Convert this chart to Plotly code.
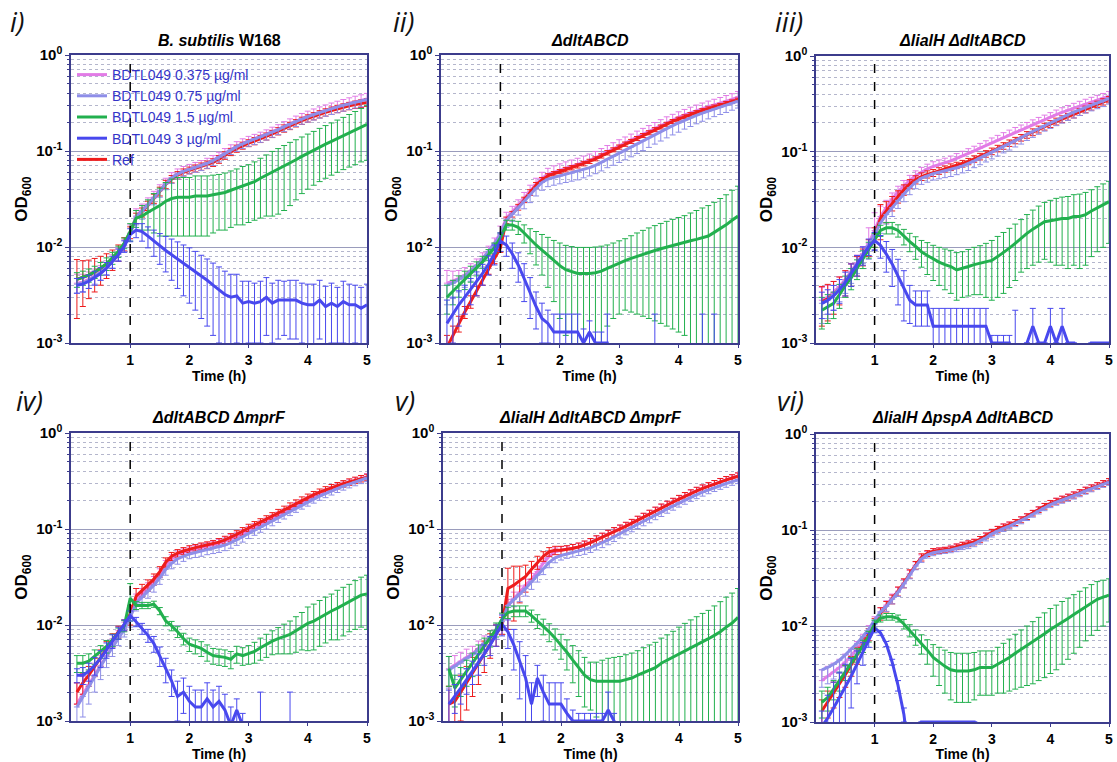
import plotly.graph_objects as go

# ---------------- data ----------------
TIME = [0.1, 0.2, 0.3, 0.4, 0.5, 0.6, 0.7, 0.8, 0.9, 1.0,
        1.1, 1.2, 1.3, 1.4, 1.5, 1.6, 1.7, 1.8, 1.9, 2.0,
        2.1, 2.2, 2.3, 2.4, 2.5, 2.6, 2.7, 2.8, 2.9, 3.0,
        3.1, 3.2, 3.3, 3.4, 3.5, 3.6, 3.7, 3.8, 3.9, 4.0,
        4.1, 4.2, 4.3, 4.4, 4.5, 4.6, 4.7, 4.8, 4.9, 5.0]

SERIES = ["BDTL049 0.375 µg/ml", "BDTL049 0.75 µg/ml", "BDTL049 1.5 µg/ml",
          "BDTL049 3 µg/ml", "Ref"]

PANEL_LABELS = ["i)", "ii)", "iii)", "iv)", "v)", "vi)"]
PANEL_TITLES = ["<i>B. subtilis</i> W168", "<i>ΔdltABCD</i>", "<i>ΔlialH ΔdltABCD</i>",
                "<i>ΔdltABCD ΔmprF</i>", "<i>ΔlialH ΔdltABCD ΔmprF</i>",
                "<i>ΔlialH ΔpspA ΔdltABCD</i>"]

Y_TICKS = [0.001, 0.01, 0.1, 1]
Y_TICKTEXT = ["10<sup>-3</sup>", "10<sup>-2</sup>", "10<sup>-1</sup>", "10<sup>0</sup>"]
X_TICKS = [1, 2, 3, 4, 5]

# --- panel i: B. subtilis W168 ---
W168_375 = [0.0042,0.0043,0.0046,0.0050,0.0055,0.0062,0.0072,0.0085,0.0105,0.0140,
            0.0210,0.0240,0.0280,0.0330,0.0390,0.0460,0.0530,0.0580,0.0620,0.0650,
            0.0680,0.0710,0.0750,0.0800,0.0870,0.0950,0.1040,0.1120,0.1200,0.1270,
            0.1330,0.1400,0.1480,0.1580,0.1680,0.1800,0.1920,0.2050,0.2180,0.2300,
            0.2420,0.2540,0.2660,0.2780,0.2900,0.3020,0.3140,0.3260,0.3370,0.3480]
W168_375_ERR = [0.0010,0.0009,0.0009,0.0009,0.0009,0.0010,0.0011,0.0012,0.0014,0.0030,
                0.0040,0.0040,0.0045,0.0050,0.0055,0.0060,0.0065,0.0070,0.0070,0.0075,
                0.0080,0.0085,0.0090,0.0095,0.0100,0.0110,0.0120,0.0130,0.0140,0.0150,
                0.0160,0.0170,0.0180,0.0190,0.0200,0.0220,0.0240,0.0260,0.0280,0.0300,
                0.0320,0.0340,0.0360,0.0380,0.0400,0.0420,0.0440,0.0460,0.0480,0.0500]
W168_075 = [0.0041,0.0042,0.0045,0.0049,0.0054,0.0061,0.0071,0.0084,0.0103,0.0138,
            0.0205,0.0235,0.0275,0.0325,0.0385,0.0455,0.0525,0.0575,0.0615,0.0645,
            0.0675,0.0705,0.0745,0.0795,0.0865,0.0945,0.1030,0.1110,0.1190,0.1260,
            0.1320,0.1390,0.1470,0.1570,0.1670,0.1790,0.1910,0.2040,0.2160,0.2280,
            0.2400,0.2520,0.2640,0.2760,0.2880,0.3000,0.3120,0.3240,0.3350,0.3450]
W168_075_ERR = [0.0008,0.0008,0.0008,0.0008,0.0009,0.0010,0.0011,0.0012,0.0014,0.0025,
                0.0035,0.0040,0.0045,0.0050,0.0055,0.0060,0.0065,0.0065,0.0070,0.0070,
                0.0075,0.0080,0.0085,0.0090,0.0095,0.0100,0.0110,0.0120,0.0130,0.0140,
                0.0150,0.0160,0.0170,0.0180,0.0190,0.0200,0.0220,0.0240,0.0260,0.0280,
                0.0300,0.0320,0.0340,0.0360,0.0380,0.0400,0.0420,0.0440,0.0460,0.0480]
W168_15 = [0.0046,0.0048,0.0051,0.0055,0.0060,0.0067,0.0077,0.0090,0.0110,0.0145,
           0.0200,0.0210,0.0230,0.0250,0.0270,0.0300,0.0320,0.0330,0.0330,0.0330,
           0.0340,0.0340,0.0340,0.0350,0.0360,0.0370,0.0390,0.0410,0.0430,0.0450,
           0.0480,0.0520,0.0560,0.0600,0.0640,0.0690,0.0750,0.0810,0.0880,0.0950,
           0.1020,0.1100,0.1180,0.1260,0.1350,0.1440,0.1540,0.1650,0.1770,0.1900]
W168_15_ERR = [0.0008,0.0008,0.0008,0.0008,0.0009,0.0010,0.0011,0.0012,0.0014,0.0030,
               0.0040,0.0060,0.0080,0.0110,0.0140,0.0170,0.0190,0.0200,0.0200,0.0200,
               0.0210,0.0210,0.0210,0.0210,0.0210,0.0220,0.0230,0.0240,0.0260,0.0270,
               0.0290,0.0320,0.0350,0.0390,0.0420,0.0450,0.0480,0.0500,0.0520,0.0550,
               0.0580,0.0620,0.0660,0.0700,0.0750,0.0800,0.0860,0.0930,0.1000,0.1100]
W168_3 = [0.0040,0.0041,0.0044,0.0048,0.0053,0.0060,0.0070,0.0083,0.0102,0.0135,
          0.0150,0.0145,0.0130,0.0115,0.0102,0.0092,0.0083,0.0075,0.0068,0.0062,
          0.0056,0.0050,0.0045,0.0040,0.0036,0.0032,0.0030,0.0031,0.0026,0.0027,
          0.0026,0.0027,0.0030,0.0026,0.0028,0.0028,0.0028,0.0028,0.0026,0.0025,
          0.0025,0.0028,0.0024,0.0026,0.0024,0.0027,0.0025,0.0025,0.0023,0.0025]
W168_3_ERR = [0.0007,0.0007,0.0007,0.0008,0.0008,0.0009,0.0010,0.0012,0.0014,0.0020,
              0.0025,0.0030,0.0032,0.0035,0.0036,0.0037,0.0038,0.0038,0.0037,0.0036,
              0.0034,0.0032,0.0030,0.0028,0.0026,0.0024,0.0022,0.0021,0.0018,0.0017,
              0.0016,0.0017,0.0018,0.0016,0.0017,0.0016,0.0017,0.0017,0.0016,0.0016,
              0.0016,0.0017,0.0015,0.0016,0.0014,0.0017,0.0016,0.0015,0.0015,0.0016]
W168_REF = [0.0046,0.0048,0.0051,0.0055,0.0060,0.0066,0.0075,0.0088,0.0108,0.0142,
            0.0200,0.0230,0.0270,0.0320,0.0380,0.0450,0.0510,0.0560,0.0600,0.0630,
            0.0660,0.0690,0.0720,0.0760,0.0820,0.0900,0.0980,0.1060,0.1140,0.1210,
            0.1270,0.1340,0.1420,0.1510,0.1610,0.1720,0.1830,0.1950,0.2070,0.2190,
            0.2310,0.2420,0.2530,0.2640,0.2750,0.2850,0.2950,0.3040,0.3120,0.3200]
W168_REF_ERR = [0.0028,0.0024,0.0022,0.0021,0.0020,0.0019,0.0018,0.0017,0.0017,0.0020,
                0.0025,0.0025,0.0030,0.0035,0.0040,0.0045,0.0045,0.0050,0.0050,0.0050,
                0.0055,0.0060,0.0065,0.0070,0.0075,0.0080,0.0085,0.0090,0.0095,0.0100,
                0.0110,0.0115,0.0120,0.0130,0.0140,0.0150,0.0160,0.0170,0.0180,0.0190,
                0.0200,0.0210,0.0220,0.0230,0.0240,0.0250,0.0260,0.0270,0.0280,0.0290]

# --- panel ii: dltABCD ---
DLT_375 = [0.0042,0.0044,0.0047,0.0051,0.0057,0.0065,0.0076,0.0090,0.0110,0.0140,
           0.0200,0.0230,0.0270,0.0320,0.0380,0.0450,0.0520,0.0570,0.0600,0.0630,
           0.0660,0.0690,0.0720,0.0760,0.0800,0.0850,0.0910,0.0980,0.1050,0.1130,
           0.1210,0.1300,0.1400,0.1500,0.1610,0.1730,0.1850,0.1980,0.2110,0.2240,
           0.2370,0.2500,0.2630,0.2760,0.2890,0.3020,0.3150,0.3300,0.3450,0.3650]
DLT_375_ERR = [0.0015,0.0012,0.0010,0.0010,0.0010,0.0010,0.0011,0.0012,0.0014,0.0025,
               0.0030,0.0035,0.0040,0.0050,0.0060,0.0070,0.0080,0.0090,0.0100,0.0105,
               0.0110,0.0115,0.0120,0.0125,0.0130,0.0140,0.0150,0.0160,0.0170,0.0180,
               0.0190,0.0200,0.0210,0.0220,0.0230,0.0250,0.0270,0.0290,0.0300,0.0320,
               0.0340,0.0360,0.0380,0.0400,0.0420,0.0440,0.0460,0.0480,0.0500,0.0520]
DLT_075 = [0.0040,0.0042,0.0046,0.0050,0.0056,0.0064,0.0075,0.0089,0.0108,0.0135,
           0.0190,0.0220,0.0255,0.0300,0.0350,0.0410,0.0470,0.0510,0.0530,0.0550,
           0.0570,0.0590,0.0610,0.0640,0.0670,0.0710,0.0760,0.0820,0.0880,0.0950,
           0.1020,0.1100,0.1190,0.1280,0.1380,0.1490,0.1600,0.1720,0.1840,0.1960,
           0.2090,0.2220,0.2350,0.2480,0.2610,0.2740,0.2870,0.3000,0.3150,0.3300]
DLT_075_ERR = [0.0015,0.0013,0.0012,0.0012,0.0012,0.0012,0.0013,0.0014,0.0016,0.0025,
               0.0030,0.0035,0.0040,0.0050,0.0060,0.0070,0.0080,0.0085,0.0090,0.0095,
               0.0100,0.0105,0.0110,0.0115,0.0120,0.0130,0.0140,0.0150,0.0170,0.0190,
               0.0210,0.0230,0.0250,0.0270,0.0290,0.0310,0.0330,0.0350,0.0370,0.0390,
               0.0400,0.0420,0.0430,0.0440,0.0450,0.0460,0.0470,0.0480,0.0490,0.0500]
DLT_15 = [0.0030,0.0035,0.0040,0.0046,0.0053,0.0060,0.0070,0.0083,0.0098,0.0125,
          0.0170,0.0170,0.0160,0.0140,0.0120,0.0105,0.0093,0.0082,0.0072,0.0064,
          0.0058,0.0055,0.0053,0.0053,0.0053,0.0054,0.0056,0.0060,0.0064,0.0068,
          0.0072,0.0076,0.0080,0.0084,0.0088,0.0092,0.0096,0.0100,0.0104,0.0108,
          0.0112,0.0116,0.0120,0.0125,0.0130,0.0142,0.0155,0.0170,0.0190,0.0210]
DLT_15_ERR = [0.0010,0.0010,0.0010,0.0010,0.0010,0.0010,0.0010,0.0011,0.0012,0.0015,
              0.0020,0.0020,0.0025,0.0030,0.0035,0.0040,0.0042,0.0044,0.0045,0.0046,
              0.0046,0.0046,0.0046,0.0046,0.0046,0.0046,0.0046,0.0045,0.0046,0.0048,
              0.0050,0.0055,0.0060,0.0065,0.0070,0.0075,0.0080,0.0085,0.0090,0.0095,
              0.0100,0.0110,0.0120,0.0130,0.0140,0.0150,0.0165,0.0180,0.0200,0.0220]
DLT_3 = [0.0016,0.0020,0.0025,0.0030,0.0036,0.0043,0.0053,0.0066,0.0085,0.0115,
         0.0105,0.0085,0.0065,0.0047,0.0033,0.0024,0.0018,0.0016,0.0013,0.0013,
         0.0013,0.0013,0.0013,0.0010,0.0013,0.0010,0.0010,0.0010,0.0004,0.0004,
         0.0004,0.0004,0.0004,0.0004,0.0004,0.0004,0.0004,0.0004,0.0004,0.0004,
         0.0004,0.0004,0.0004,0.0004,0.0004,0.0004,0.0004,0.0004,0.0004,0.0004]
DLT_3_ERR = [0.0012,0.0010,0.0010,0.0010,0.0011,0.0012,0.0013,0.0015,0.0020,0.0025,
             0.0025,0.0025,0.0022,0.0020,0.0015,0.0010,0.0008,0.0006,0.0007,0.0007,
             0.0007,0.0007,0.0007,0.0004,0.0004,0.0003,0.0003,0.0010,0.0000,0.0000,
             0.0000,0.0000,0.0000,0.0000,0.0000,0.0016,0.0000,0.0000,0.0000,0.0000,
             0.0000,0.0000,0.0000,0.0016,0.0000,0.0016,0.0000,0.0000,0.0000,0.0000]
DLT_REF = [0.0009,0.0012,0.0016,0.0021,0.0027,0.0035,0.0045,0.0058,0.0075,0.0098,
           0.0190,0.0220,0.0260,0.0310,0.0370,0.0440,0.0500,0.0550,0.0580,0.0610,
           0.0640,0.0670,0.0700,0.0740,0.0780,0.0830,0.0890,0.0960,0.1030,0.1100,
           0.1180,0.1260,0.1350,0.1450,0.1550,0.1670,0.1780,0.1900,0.2030,0.2150,
           0.2280,0.2400,0.2520,0.2640,0.2760,0.2880,0.3000,0.3130,0.3260,0.3400]
DLT_REF_ERR = [0.0003,0.0003,0.0003,0.0003,0.0004,0.0004,0.0005,0.0006,0.0008,0.0010,
               0.0015,0.0015,0.0018,0.0020,0.0025,0.0030,0.0030,0.0030,0.0030,0.0030,
               0.0035,0.0035,0.0035,0.0040,0.0040,0.0040,0.0045,0.0050,0.0050,0.0055,
               0.0060,0.0060,0.0065,0.0070,0.0075,0.0080,0.0085,0.0090,0.0095,0.0100,
               0.0100,0.0110,0.0110,0.0120,0.0120,0.0130,0.0130,0.0140,0.0140,0.0150]

# --- panel iii: lialH dltABCD ---
LD_375 = [0.0028,0.0030,0.0034,0.0039,0.0046,0.0056,0.0069,0.0086,0.0110,0.0150,
          0.0210,0.0260,0.0320,0.0380,0.0440,0.0500,0.0560,0.0610,0.0660,0.0700,
          0.0730,0.0760,0.0800,0.0850,0.0900,0.0960,0.1020,0.1090,0.1160,0.1240,
          0.1320,0.1410,0.1500,0.1600,0.1700,0.1810,0.1930,0.2050,0.2170,0.2300,
          0.2440,0.2580,0.2720,0.2860,0.3000,0.3150,0.3300,0.3460,0.3620,0.3800]
LD_375_ERR = [0.0010,0.0010,0.0010,0.0010,0.0011,0.0012,0.0014,0.0016,0.0050,0.0080,
              0.0060,0.0050,0.0050,0.0055,0.0060,0.0065,0.0070,0.0075,0.0080,0.0085,
              0.0090,0.0095,0.0100,0.0105,0.0110,0.0115,0.0120,0.0130,0.0140,0.0150,
              0.0160,0.0170,0.0180,0.0190,0.0200,0.0210,0.0220,0.0230,0.0240,0.0260,
              0.0280,0.0300,0.0320,0.0340,0.0360,0.0380,0.0400,0.0420,0.0440,0.0460]
LD_075 = [0.0026,0.0028,0.0032,0.0037,0.0044,0.0054,0.0067,0.0084,0.0105,0.0135,
          0.0180,0.0220,0.0260,0.0310,0.0360,0.0420,0.0480,0.0530,0.0560,0.0590,
          0.0610,0.0630,0.0650,0.0680,0.0710,0.0750,0.0800,0.0860,0.0920,0.0990,
          0.1060,0.1140,0.1220,0.1310,0.1400,0.1520,0.1630,0.1750,0.1880,0.2010,
          0.2150,0.2290,0.2440,0.2590,0.2750,0.2910,0.3070,0.3230,0.3400,0.3600]
LD_075_ERR = [0.0010,0.0010,0.0010,0.0010,0.0011,0.0012,0.0014,0.0016,0.0030,0.0040,
              0.0040,0.0045,0.0050,0.0055,0.0060,0.0065,0.0070,0.0075,0.0080,0.0085,
              0.0090,0.0095,0.0100,0.0105,0.0110,0.0115,0.0120,0.0130,0.0140,0.0150,
              0.0160,0.0170,0.0180,0.0190,0.0200,0.0210,0.0220,0.0230,0.0240,0.0260,
              0.0280,0.0300,0.0320,0.0340,0.0360,0.0380,0.0400,0.0420,0.0440,0.0460]
LD_15 = [0.0022,0.0024,0.0026,0.0032,0.0040,0.0048,0.0060,0.0076,0.0095,0.0120,
         0.0150,0.0160,0.0160,0.0150,0.0130,0.0115,0.0102,0.0090,0.0082,0.0075,
         0.0070,0.0066,0.0063,0.0058,0.0060,0.0063,0.0066,0.0068,0.0070,0.0073,
         0.0080,0.0088,0.0098,0.0110,0.0125,0.0140,0.0155,0.0170,0.0185,0.0190,
         0.0195,0.0200,0.0200,0.0210,0.0210,0.0220,0.0240,0.0260,0.0280,0.0300]
LD_15_ERR = [0.0008,0.0008,0.0008,0.0009,0.0010,0.0012,0.0014,0.0016,0.0018,0.0020,
             0.0020,0.0022,0.0022,0.0022,0.0024,0.0025,0.0027,0.0028,0.0030,0.0030,
             0.0030,0.0030,0.0030,0.0030,0.0030,0.0032,0.0034,0.0036,0.0040,0.0045,
             0.0050,0.0055,0.0060,0.0065,0.0070,0.0080,0.0090,0.0100,0.0110,0.0120,
             0.0130,0.0135,0.0140,0.0145,0.0150,0.0155,0.0160,0.0170,0.0180,0.0190]
LD_3 = [0.0026,0.0028,0.0031,0.0036,0.0043,0.0053,0.0066,0.0083,0.0102,0.0118,
        0.0105,0.0085,0.0067,0.0050,0.0037,0.0028,0.0025,0.0025,0.0025,0.0015,
        0.0015,0.0015,0.0015,0.0015,0.0015,0.0015,0.0015,0.0015,0.0015,0.0010,
        0.0010,0.0010,0.0010,0.0004,0.0004,0.0010,0.0015,0.0010,0.0010,0.0015,
        0.0010,0.0015,0.0010,0.0010,0.0004,0.0004,0.0010,0.0010,0.0010,0.0010]
LD_3_ERR = [0.0008,0.0008,0.0009,0.0010,0.0012,0.0014,0.0016,0.0018,0.0020,0.0025,
            0.0028,0.0030,0.0028,0.0025,0.0020,0.0012,0.0010,0.0010,0.0010,0.0008,
            0.0008,0.0008,0.0008,0.0008,0.0008,0.0008,0.0008,0.0008,0.0008,0.0002,
            0.0002,0.0002,0.0002,0.0018,0.0000,0.0000,0.0008,0.0000,0.0000,0.0008,
            0.0000,0.0008,0.0000,0.0000,0.0000,0.0000,0.0000,0.0000,0.0000,0.0000]
LD_REF = [0.0027,0.0029,0.0032,0.0037,0.0044,0.0053,0.0065,0.0080,0.0100,0.0130,
          0.0200,0.0240,0.0290,0.0340,0.0400,0.0460,0.0510,0.0550,0.0580,0.0600,
          0.0630,0.0660,0.0690,0.0720,0.0750,0.0790,0.0840,0.0890,0.0950,0.1010,
          0.1080,0.1150,0.1230,0.1310,0.1400,0.1500,0.1600,0.1710,0.1830,0.1950,
          0.2070,0.2190,0.2320,0.2450,0.2600,0.2770,0.2950,0.3130,0.3320,0.3500]
LD_REF_ERR = [0.0012,0.0012,0.0012,0.0012,0.0013,0.0014,0.0015,0.0016,0.0020,0.0030,
              0.0080,0.0060,0.0050,0.0050,0.0050,0.0050,0.0050,0.0050,0.0050,0.0050,
              0.0050,0.0050,0.0055,0.0055,0.0060,0.0060,0.0065,0.0070,0.0075,0.0080,
              0.0085,0.0090,0.0095,0.0100,0.0110,0.0120,0.0130,0.0140,0.0150,0.0160,
              0.0170,0.0180,0.0190,0.0200,0.0210,0.0220,0.0230,0.0240,0.0250,0.0260]

# --- panel iv: dltABCD mprF ---
DM_375 = [0.0015,0.0019,0.0024,0.0030,0.0038,0.0048,0.0060,0.0075,0.0092,0.0125,
          0.0180,0.0210,0.0240,0.0280,0.0340,0.0420,0.0490,0.0540,0.0570,0.0600,
          0.0620,0.0640,0.0660,0.0680,0.0710,0.0750,0.0790,0.0840,0.0900,0.0970,
          0.1040,0.1110,0.1190,0.1280,0.1380,0.1490,0.1610,0.1730,0.1860,0.1990,
          0.2130,0.2270,0.2410,0.2560,0.2710,0.2860,0.3010,0.3170,0.3330,0.3500]
DM_375_ERR = [0.0010,0.0010,0.0010,0.0010,0.0010,0.0011,0.0012,0.0013,0.0015,0.0030,
              0.0030,0.0030,0.0035,0.0040,0.0045,0.0050,0.0050,0.0050,0.0050,0.0050,
              0.0055,0.0060,0.0060,0.0065,0.0070,0.0075,0.0080,0.0085,0.0090,0.0095,
              0.0100,0.0105,0.0110,0.0115,0.0120,0.0130,0.0140,0.0150,0.0160,0.0170,
              0.0180,0.0190,0.0200,0.0210,0.0220,0.0230,0.0240,0.0250,0.0260,0.0270]
DM_075 = [0.0014,0.0018,0.0023,0.0029,0.0037,0.0047,0.0059,0.0074,0.0090,0.0120,
          0.0170,0.0195,0.0225,0.0260,0.0310,0.0380,0.0440,0.0490,0.0520,0.0550,
          0.0570,0.0590,0.0610,0.0630,0.0650,0.0680,0.0720,0.0770,0.0830,0.0900,
          0.0970,0.1040,0.1120,0.1210,0.1310,0.1420,0.1540,0.1660,0.1790,0.1920,
          0.2060,0.2200,0.2340,0.2490,0.2640,0.2790,0.2940,0.3090,0.3250,0.3400]
DM_075_ERR = [0.0006,0.0007,0.0008,0.0009,0.0010,0.0011,0.0012,0.0013,0.0015,0.0025,
              0.0030,0.0030,0.0035,0.0040,0.0045,0.0050,0.0055,0.0060,0.0060,0.0060,
              0.0065,0.0070,0.0070,0.0075,0.0080,0.0085,0.0090,0.0095,0.0100,0.0105,
              0.0110,0.0115,0.0120,0.0130,0.0140,0.0150,0.0160,0.0170,0.0180,0.0190,
              0.0200,0.0210,0.0220,0.0230,0.0240,0.0250,0.0260,0.0270,0.0280,0.0290]
DM_15 = [0.0040,0.0040,0.0042,0.0047,0.0053,0.0060,0.0070,0.0082,0.0098,0.0190,
         0.0160,0.0160,0.0160,0.0165,0.0140,0.0110,0.0098,0.0085,0.0072,0.0063,
         0.0060,0.0057,0.0052,0.0048,0.0047,0.0046,0.0044,0.0050,0.0048,0.0050,
         0.0053,0.0058,0.0063,0.0068,0.0072,0.0076,0.0080,0.0087,0.0095,0.0104,
         0.0110,0.0120,0.0130,0.0140,0.0150,0.0162,0.0175,0.0190,0.0205,0.0210]
DM_15_ERR = [0.0008,0.0008,0.0008,0.0008,0.0008,0.0009,0.0010,0.0011,0.0013,0.0080,
             0.0015,0.0012,0.0012,0.0012,0.0012,0.0012,0.0011,0.0011,0.0010,0.0010,
             0.0010,0.0010,0.0010,0.0009,0.0009,0.0009,0.0009,0.0010,0.0010,0.0011,
             0.0013,0.0015,0.0017,0.0019,0.0022,0.0026,0.0030,0.0035,0.0040,0.0050,
             0.0055,0.0060,0.0065,0.0070,0.0080,0.0085,0.0090,0.0100,0.0110,0.0120]
DM_3 = [0.0030,0.0030,0.0033,0.0038,0.0045,0.0055,0.0068,0.0083,0.0100,0.0125,
        0.0108,0.0092,0.0078,0.0064,0.0048,0.0035,0.0026,0.0018,0.0020,0.0016,
        0.0014,0.0014,0.0017,0.0014,0.0016,0.0013,0.0009,0.0013,0.0009,0.0004,
        0.0004,0.0004,0.0004,0.0004,0.0004,0.0004,0.0004,0.0004,0.0004,0.0004,
        0.0004,0.0004,0.0004,0.0004,0.0004,0.0004,0.0004,0.0004,0.0004,0.0004]
DM_3_ERR = [0.0005,0.0006,0.0007,0.0008,0.0009,0.0010,0.0011,0.0012,0.0013,0.0015,
            0.0012,0.0012,0.0012,0.0012,0.0011,0.0010,0.0008,0.0008,0.0008,0.0007,
            0.0007,0.0007,0.0008,0.0007,0.0007,0.0006,0.0005,0.0004,0.0003,0.0000,
            0.0000,0.0016,0.0000,0.0000,0.0000,0.0000,0.0016,0.0000,0.0000,0.0000,
            0.0000,0.0000,0.0000,0.0000,0.0000,0.0000,0.0000,0.0000,0.0000,0.0000]
DM_REF = [0.0020,0.0025,0.0030,0.0037,0.0046,0.0057,0.0070,0.0085,0.0100,0.0130,
          0.0200,0.0230,0.0260,0.0300,0.0360,0.0450,0.0520,0.0560,0.0590,0.0620,
          0.0640,0.0660,0.0680,0.0700,0.0730,0.0770,0.0820,0.0880,0.0950,0.1030,
          0.1100,0.1180,0.1270,0.1370,0.1480,0.1600,0.1730,0.1860,0.2000,0.2140,
          0.2280,0.2420,0.2560,0.2700,0.2830,0.2960,0.3090,0.3220,0.3350,0.3450]
DM_REF_ERR = [0.0005,0.0006,0.0007,0.0008,0.0009,0.0010,0.0011,0.0012,0.0013,0.0030,
              0.0040,0.0035,0.0035,0.0040,0.0045,0.0050,0.0050,0.0050,0.0050,0.0050,
              0.0050,0.0055,0.0055,0.0060,0.0065,0.0070,0.0075,0.0080,0.0085,0.0090,
              0.0095,0.0100,0.0105,0.0110,0.0120,0.0130,0.0140,0.0150,0.0160,0.0170,
              0.0180,0.0190,0.0200,0.0210,0.0220,0.0230,0.0240,0.0250,0.0260,0.0270]

# --- panel v: lialH dltABCD mprF ---
LDM_375 = [0.0035,0.0038,0.0042,0.0046,0.0050,0.0057,0.0065,0.0075,0.0087,0.0110,
           0.0160,0.0190,0.0220,0.0260,0.0300,0.0360,0.0440,0.0520,0.0580,0.0600,
           0.0610,0.0630,0.0650,0.0680,0.0720,0.0770,0.0820,0.0880,0.0940,0.1000,
           0.1070,0.1150,0.1240,0.1330,0.1430,0.1540,0.1660,0.1780,0.1910,0.2050,
           0.2200,0.2350,0.2500,0.2650,0.2800,0.2950,0.3100,0.3250,0.3400,0.3550]
LDM_375_ERR = [0.0012,0.0010,0.0010,0.0010,0.0010,0.0011,0.0012,0.0013,0.0015,0.0020,
               0.0025,0.0030,0.0035,0.0040,0.0045,0.0050,0.0055,0.0055,0.0055,0.0055,
               0.0055,0.0060,0.0060,0.0065,0.0070,0.0075,0.0080,0.0085,0.0090,0.0095,
               0.0100,0.0105,0.0110,0.0120,0.0130,0.0140,0.0150,0.0160,0.0170,0.0180,
               0.0190,0.0200,0.0210,0.0220,0.0230,0.0240,0.0250,0.0260,0.0270,0.0280]
LDM_075 = [0.0034,0.0037,0.0041,0.0045,0.0049,0.0056,0.0064,0.0074,0.0086,0.0108,
           0.0160,0.0185,0.0210,0.0240,0.0280,0.0330,0.0390,0.0450,0.0500,0.0530,
           0.0550,0.0570,0.0590,0.0610,0.0640,0.0680,0.0720,0.0770,0.0830,0.0900,
           0.0970,0.1040,0.1120,0.1200,0.1290,0.1390,0.1500,0.1620,0.1740,0.1870,
           0.2000,0.2140,0.2280,0.2420,0.2560,0.2700,0.2840,0.2980,0.3120,0.3250]
LDM_075_ERR = [0.0012,0.0010,0.0010,0.0010,0.0010,0.0011,0.0012,0.0013,0.0015,0.0020,
               0.0025,0.0030,0.0035,0.0040,0.0045,0.0050,0.0055,0.0055,0.0055,0.0055,
               0.0055,0.0060,0.0060,0.0065,0.0070,0.0075,0.0080,0.0085,0.0090,0.0095,
               0.0100,0.0105,0.0110,0.0120,0.0130,0.0140,0.0150,0.0160,0.0170,0.0180,
               0.0190,0.0200,0.0210,0.0220,0.0230,0.0240,0.0250,0.0260,0.0270,0.0280]
LDM_15 = [0.0035,0.0022,0.0027,0.0033,0.0040,0.0050,0.0060,0.0073,0.0090,0.0115,
          0.0135,0.0140,0.0140,0.0140,0.0125,0.0110,0.0097,0.0085,0.0073,0.0062,
          0.0052,0.0043,0.0036,0.0030,0.0027,0.0026,0.0026,0.0026,0.0026,0.0026,
          0.0027,0.0028,0.0030,0.0032,0.0034,0.0036,0.0040,0.0043,0.0046,0.0050,
          0.0054,0.0058,0.0062,0.0067,0.0072,0.0078,0.0085,0.0095,0.0105,0.0120]
LDM_15_ERR = [0.0012,0.0008,0.0009,0.0010,0.0011,0.0012,0.0013,0.0014,0.0015,0.0018,
              0.0018,0.0018,0.0018,0.0018,0.0018,0.0018,0.0018,0.0018,0.0018,0.0018,
              0.0018,0.0018,0.0018,0.0016,0.0014,0.0015,0.0017,0.0019,0.0020,0.0021,
              0.0022,0.0023,0.0024,0.0026,0.0028,0.0030,0.0033,0.0036,0.0040,0.0045,
              0.0050,0.0055,0.0060,0.0065,0.0070,0.0080,0.0090,0.0100,0.0110,0.0120]
LDM_3 = [0.0015,0.0018,0.0022,0.0027,0.0033,0.0040,0.0050,0.0062,0.0080,0.0102,
         0.0085,0.0062,0.0042,0.0028,0.0015,0.0028,0.0020,0.0015,0.0015,0.0015,
         0.0012,0.0010,0.0010,0.0010,0.0010,0.0010,0.0010,0.0013,0.0010,0.0004,
         0.0004,0.0004,0.0004,0.0004,0.0004,0.0004,0.0004,0.0004,0.0004,0.0004,
         0.0004,0.0004,0.0004,0.0004,0.0004,0.0004,0.0004,0.0004,0.0004,0.0004]
LDM_3_ERR = [0.0006,0.0006,0.0007,0.0008,0.0009,0.0010,0.0012,0.0014,0.0020,0.0025,
             0.0028,0.0028,0.0025,0.0020,0.0010,0.0010,0.0010,0.0010,0.0010,0.0010,
             0.0005,0.0003,0.0002,0.0002,0.0002,0.0002,0.0002,0.0007,0.0002,0.0000,
             0.0000,0.0000,0.0000,0.0000,0.0000,0.0000,0.0000,0.0000,0.0000,0.0000,
             0.0000,0.0000,0.0000,0.0000,0.0000,0.0000,0.0000,0.0000,0.0000,0.0000]
LDM_REF = [0.0015,0.0016,0.0020,0.0025,0.0032,0.0040,0.0050,0.0063,0.0080,0.0100,
           0.0240,0.0260,0.0290,0.0320,0.0380,0.0450,0.0520,0.0580,0.0600,0.0600,
           0.0610,0.0630,0.0650,0.0680,0.0720,0.0770,0.0820,0.0880,0.0940,0.1000,
           0.1070,0.1150,0.1240,0.1330,0.1430,0.1540,0.1660,0.1780,0.1910,0.2050,
           0.2200,0.2350,0.2500,0.2650,0.2800,0.2950,0.3100,0.3250,0.3400,0.3550]
LDM_REF_ERR = [0.0008,0.0008,0.0010,0.0012,0.0014,0.0016,0.0018,0.0018,0.0020,0.0020,
               0.0150,0.0150,0.0120,0.0100,0.0080,0.0070,0.0060,0.0060,0.0060,0.0060,
               0.0060,0.0060,0.0065,0.0070,0.0075,0.0080,0.0085,0.0090,0.0095,0.0100,
               0.0105,0.0110,0.0120,0.0130,0.0140,0.0150,0.0160,0.0170,0.0180,0.0190,
               0.0200,0.0210,0.0220,0.0230,0.0240,0.0250,0.0260,0.0270,0.0280,0.0290]

# --- panel vi: lialH pspA dltABCD ---
LPD_375 = [0.0027,0.0030,0.0033,0.0037,0.0042,0.0049,0.0058,0.0070,0.0087,0.0110,
           0.0140,0.0165,0.0195,0.0230,0.0280,0.0350,0.0430,0.0510,0.0560,0.0600,
           0.0610,0.0620,0.0640,0.0670,0.0700,0.0720,0.0750,0.0800,0.0870,0.0950,
           0.1020,0.1080,0.1130,0.1200,0.1280,0.1380,0.1500,0.1630,0.1770,0.1900,
           0.2000,0.2100,0.2200,0.2320,0.2450,0.2600,0.2750,0.2900,0.3050,0.3200]
LPD_375_ERR = [0.0008,0.0008,0.0008,0.0008,0.0009,0.0010,0.0011,0.0012,0.0014,0.0015,
               0.0015,0.0018,0.0020,0.0022,0.0025,0.0030,0.0035,0.0040,0.0040,0.0040,
               0.0040,0.0040,0.0040,0.0045,0.0045,0.0050,0.0050,0.0055,0.0060,0.0065,
               0.0070,0.0075,0.0080,0.0085,0.0090,0.0095,0.0100,0.0110,0.0120,0.0130,
               0.0140,0.0150,0.0160,0.0170,0.0180,0.0190,0.0200,0.0210,0.0220,0.0230]
LPD_075 = [0.0035,0.0037,0.0040,0.0044,0.0050,0.0057,0.0066,0.0078,0.0093,0.0115,
           0.0140,0.0160,0.0190,0.0225,0.0275,0.0340,0.0420,0.0500,0.0550,0.0580,
           0.0600,0.0610,0.0620,0.0640,0.0670,0.0690,0.0720,0.0770,0.0830,0.0910,
           0.0980,0.1040,0.1100,0.1170,0.1250,0.1350,0.1460,0.1580,0.1710,0.1840,
           0.1950,0.2050,0.2150,0.2270,0.2400,0.2550,0.2700,0.2850,0.3000,0.3150]
LPD_075_ERR = [0.0012,0.0012,0.0012,0.0012,0.0012,0.0013,0.0014,0.0015,0.0016,0.0016,
               0.0015,0.0018,0.0020,0.0022,0.0025,0.0030,0.0035,0.0040,0.0040,0.0040,
               0.0040,0.0040,0.0040,0.0045,0.0045,0.0050,0.0050,0.0055,0.0060,0.0065,
               0.0070,0.0075,0.0080,0.0085,0.0090,0.0095,0.0100,0.0110,0.0120,0.0130,
               0.0140,0.0150,0.0160,0.0170,0.0180,0.0190,0.0200,0.0210,0.0220,0.0230]
LPD_15 = [0.0016,0.0018,0.0022,0.0027,0.0033,0.0040,0.0050,0.0062,0.0078,0.0105,
          0.0120,0.0125,0.0125,0.0120,0.0105,0.0090,0.0077,0.0066,0.0056,0.0047,
          0.0042,0.0038,0.0035,0.0034,0.0034,0.0034,0.0035,0.0037,0.0037,0.0037,
          0.0040,0.0043,0.0047,0.0052,0.0057,0.0062,0.0068,0.0075,0.0083,0.0092,
          0.0100,0.0110,0.0120,0.0132,0.0145,0.0160,0.0175,0.0190,0.0200,0.0210]
LPD_15_ERR = [0.0005,0.0005,0.0005,0.0006,0.0006,0.0007,0.0008,0.0009,0.0010,0.0010,
              0.0010,0.0010,0.0010,0.0010,0.0012,0.0013,0.0014,0.0015,0.0016,0.0017,
              0.0018,0.0018,0.0018,0.0018,0.0018,0.0018,0.0018,0.0018,0.0018,0.0018,
              0.0020,0.0023,0.0026,0.0030,0.0034,0.0038,0.0043,0.0048,0.0054,0.0060,
              0.0065,0.0070,0.0075,0.0080,0.0085,0.0090,0.0095,0.0100,0.0100,0.0100]
LPD_3 = [0.0009,0.0011,0.0014,0.0018,0.0024,0.0030,0.0040,0.0053,0.0072,0.0095,
         0.0085,0.0065,0.0042,0.0024,0.0012,0.0004,0.0004,0.0010,0.0010,0.0010,
         0.0010,0.0010,0.0010,0.0010,0.0010,0.0010,0.0010,0.0004,0.0004,0.0004,
         0.0004,0.0004,0.0004,0.0004,0.0004,0.0004,0.0004,0.0004,0.0004,0.0004,
         0.0004,0.0004,0.0004,0.0004,0.0004,0.0004,0.0004,0.0004,0.0004,0.0004]
LPD_3_ERR = [0.0004,0.0008,0.0012,0.0015,0.0016,0.0016,0.0015,0.0014,0.0012,0.0010,
             0.0005,0.0004,0.0003,0.0003,0.0002,0.0000,0.0000,0.0000,0.0000,0.0000,
             0.0000,0.0000,0.0000,0.0000,0.0000,0.0000,0.0000,0.0000,0.0000,0.0000,
             0.0000,0.0000,0.0000,0.0000,0.0000,0.0000,0.0000,0.0000,0.0000,0.0000,
             0.0000,0.0000,0.0000,0.0000,0.0000,0.0000,0.0000,0.0000,0.0000,0.0000]
LPD_REF = [0.0013,0.0016,0.0020,0.0025,0.0031,0.0039,0.0050,0.0064,0.0082,0.0105,
           0.0135,0.0160,0.0190,0.0230,0.0280,0.0350,0.0430,0.0520,0.0570,0.0600,
           0.0610,0.0620,0.0640,0.0670,0.0700,0.0720,0.0750,0.0800,0.0870,0.0950,
           0.1020,0.1080,0.1130,0.1200,0.1280,0.1380,0.1500,0.1630,0.1770,0.1900,
           0.2000,0.2100,0.2200,0.2320,0.2450,0.2600,0.2750,0.2900,0.3050,0.3200]
LPD_REF_ERR = [0.0004,0.0005,0.0006,0.0007,0.0008,0.0009,0.0010,0.0011,0.0012,0.0015,
               0.0020,0.0020,0.0020,0.0025,0.0030,0.0035,0.0040,0.0045,0.0040,0.0040,
               0.0040,0.0040,0.0040,0.0045,0.0045,0.0050,0.0050,0.0055,0.0060,0.0065,
               0.0070,0.0075,0.0080,0.0085,0.0090,0.0095,0.0100,0.0110,0.0120,0.0130,
               0.0140,0.0150,0.0160,0.0170,0.0180,0.0190,0.0200,0.0210,0.0220,0.0230]

# table built from the named arrays: per panel, series in SERIES order
PANEL_VALUES = [
    [W168_375, W168_075, W168_15, W168_3, W168_REF],
    [DLT_375, DLT_075, DLT_15, DLT_3, DLT_REF],
    [LD_375, LD_075, LD_15, LD_3, LD_REF],
    [DM_375, DM_075, DM_15, DM_3, DM_REF],
    [LDM_375, LDM_075, LDM_15, LDM_3, LDM_REF],
    [LPD_375, LPD_075, LPD_15, LPD_3, LPD_REF],
]
PANEL_ERRORS = [
    [W168_375_ERR, W168_075_ERR, W168_15_ERR, W168_3_ERR, W168_REF_ERR],
    [DLT_375_ERR, DLT_075_ERR, DLT_15_ERR, DLT_3_ERR, DLT_REF_ERR],
    [LD_375_ERR, LD_075_ERR, LD_15_ERR, LD_3_ERR, LD_REF_ERR],
    [DM_375_ERR, DM_075_ERR, DM_15_ERR, DM_3_ERR, DM_REF_ERR],
    [LDM_375_ERR, LDM_075_ERR, LDM_15_ERR, LDM_3_ERR, LDM_REF_ERR],
    [LPD_375_ERR, LPD_075_ERR, LPD_15_ERR, LPD_3_ERR, LPD_REF_ERR],
]

# ---------------- styling ----------------
W, H = 1117, 762
COLORS = ["#e27be6", "#8e8ee8", "#22b04e", "#4848ee", "#ee1c1c"]
ERR_DIR = ["up", "down", "both", "both", "both"]
DRAW_ORDER = [0, 4, 1, 2, 3]
FONT = "Liberation Sans"
AXIS_COLOR = "#3c3c8c"
GRID_MAJOR = "#9a9cbc"
GRID_MINOR = "#b4b6cc"

# pixel boxes of the six plot areas: (left, right, top, bottom)
BOXES = [(71, 367, 55, 343), (441, 738, 55, 343), (816, 1109, 56, 343),
         (71, 367, 433, 721), (443, 738, 433, 721), (816, 1109, 434, 722)]
LABEL_POS = [(8, 22), (391, 22), (773, 22), (14, 400), (393, 400), (775, 400)]
TITLE_Y = [40, 40, 40, 418, 418, 418]

MINOR_Y = [m * 10.0 ** e for e in (-3, -2, -1) for m in range(2, 10)]

fig = go.Figure()
for p in range(6):
    suffix = "" if p == 0 else str(p + 1)
    for s in DRAW_ORDER:
        err = PANEL_ERRORS[p][s]
        zeros = [0] * len(err)
        if ERR_DIR[s] == "up":
            ey = dict(type="data", symmetric=False, array=err, arrayminus=zeros)
        elif ERR_DIR[s] == "down":
            ey = dict(type="data", symmetric=False, array=zeros, arrayminus=err)
        else:
            ey = dict(type="data", symmetric=True, array=err)
        ey.update(color=COLORS[s], thickness=1, width=3, visible=True)
        fig.add_trace(go.Scatter(
            x=TIME, y=PANEL_VALUES[p][s], mode="lines",
            line=dict(color=COLORS[s], width=3),
            error_y=ey, name=SERIES[s], legendrank=s + 1,
            showlegend=(p == 0), xaxis="x" + suffix, yaxis="y" + suffix,
            hoverinfo="skip"))

layout = dict(
    width=W, height=H, margin=dict(l=0, r=0, t=0, b=0),
    paper_bgcolor="white", plot_bgcolor="white",
    font=dict(family=FONT, color="black"),
    showlegend=True,
    legend=dict(x=(BOXES[0][0] + 1) / W, y=1 - 59 / H, xanchor="left", yanchor="top",
                bgcolor="rgba(0,0,0,0)", borderwidth=0,
                font=dict(family=FONT, size=14, color="#3434c8"),
                itemwidth=30, tracegroupgap=0),
    annotations=[], shapes=[],
)

for p in range(6):
    suffix = "" if p == 0 else str(p + 1)
    l, r, t, b = BOXES[p]
    layout["xaxis" + suffix] = dict(
        domain=[l / W, r / W], anchor="y" + suffix, range=[0, 5],
        tickmode="array", tickvals=X_TICKS, showgrid=False, zeroline=False,
        showline=True, mirror=True, linecolor=AXIS_COLOR, linewidth=1.5,
        ticks="outside", ticklen=3, tickcolor=AXIS_COLOR, automargin=False,
        ticklabeloverflow="allow",
        tickfont=dict(family=FONT, size=14, color="black", weight="bold"),
        title=dict(text="<b>Time (h)</b>", standoff=0,
                   font=dict(family=FONT, size=14, color="black")))
    layout["yaxis" + suffix] = dict(
        domain=[1 - b / H, 1 - t / H], anchor="x" + suffix, type="log",
        range=[-3, 0], tickmode="array", tickvals=Y_TICKS, ticktext=Y_TICKTEXT,
        showgrid=True, gridcolor=GRID_MAJOR, gridwidth=1, zeroline=False,
        showline=True, mirror=True, linecolor=AXIS_COLOR, linewidth=1.5,
        ticks="outside", ticklen=4, tickcolor=AXIS_COLOR, automargin=False,
        ticklabeloverflow="allow",
        tickfont=dict(family=FONT, size=15, color="black", weight="bold"),
        minor=dict(tickmode="array", tickvals=MINOR_Y, showgrid=True,
                   gridcolor=GRID_MINOR, griddash="dot", gridwidth=1,
                   ticks="outside", ticklen=2, tickcolor=AXIS_COLOR),
        title=dict(text="<b>OD<sub>600</sub></b>", standoff=4,
                   font=dict(family=FONT, size=17, color="black")))
    layout["shapes"].append(dict(
        type="line", xref="x" + suffix, yref="y" + suffix + " domain",
        x0=1, x1=1, y0=0, y1=1, line=dict(color="black", width=1.5, dash="dash")))
    lx, ly = LABEL_POS[p]
    layout["annotations"].append(dict(
        text="<i>" + PANEL_LABELS[p] + "</i>", x=lx / W, y=1 - ly / H,
        xref="paper", yref="paper", xanchor="left", yanchor="middle",
        showarrow=False, font=dict(family="Open Sans", size=27, color="#111111")))
    layout["annotations"].append(dict(
        text="<b>" + PANEL_TITLES[p] + "</b>", x=(l + r) / 2 / W, y=1 - TITLE_Y[p] / H,
        xref="paper", yref="paper", xanchor="center", yanchor="middle",
        showarrow=False, font=dict(family=FONT, size=16, color="black")))

fig.update_layout(**layout)
fig.write_html("out.html", config={"displayModeBar": False},
               post_script="document.body.style.margin='0';document.body.style.overflow='hidden';")
